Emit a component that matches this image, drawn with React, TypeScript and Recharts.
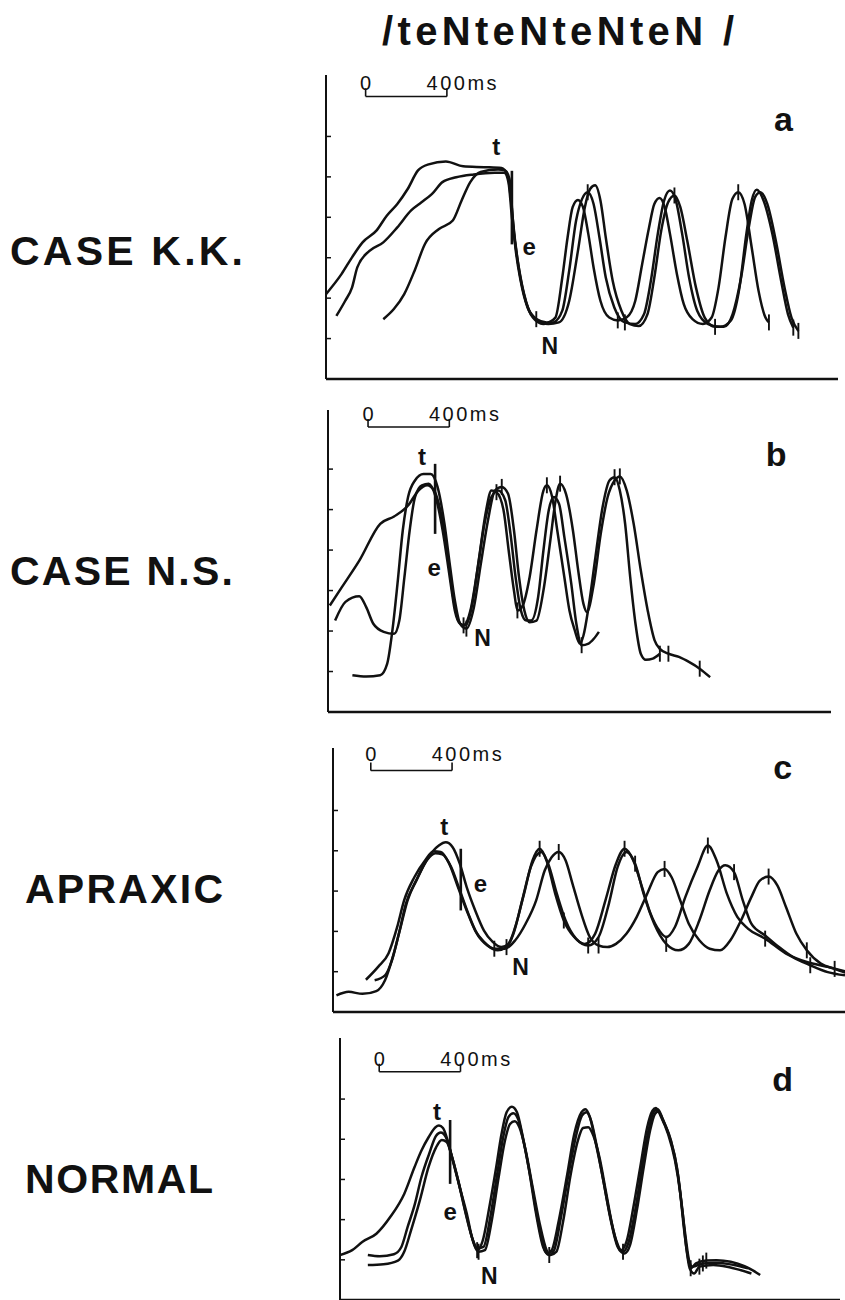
import React from 'react'
import { LineChart, Line, XAxis, YAxis, ReferenceLine, ReferenceDot } from 'recharts'

// each point: [time in ms, amplitude in tick units, 1 = segment mark]
type Pt = [number, number, number?]

// a — CASE K.K.
const KK_1: Pt[] = [
  [-195, 2.1], [-118, 2.6], [-67, 3.01], [-15, 3.38], [53, 3.67], [104, 4.04], [156, 4.33], [207, 4.7],
  [258, 5.16], [310, 5.31], [395, 5.38], [480, 5.26], [583, 5.24], [669, 5.22], [699, 5.03], [716, 4.41],
  [737, 3.26], [763, 2.43], [797, 1.77], [840, 1.48], [891, 1.4], [934, 1.52], [968, 2.51], [994, 3.5],
  [1019, 4.25], [1045, 4.43], [1070, 4.25], [1096, 3.59], [1122, 2.76], [1156, 1.93], [1199, 1.52],
  [1241, 1.45, 1], [1284, 1.52], [1327, 1.93], [1361, 2.84], [1395, 3.75], [1421, 4.33], [1447, 4.48],
  [1472, 4.25], [1498, 3.59], [1532, 2.6], [1566, 1.85], [1609, 1.48], [1660, 1.36], [1703, 1.52],
  [1737, 2.26], [1771, 3.5], [1805, 4.45], [1834, 4.62, 1], [1865, 4.33], [1900, 3.26], [1934, 2.18],
  [1968, 1.52], [1985, 1.4, 1],
]
const KK_2: Pt[] = [
  [-144, 1.56], [-101, 1.93], [-67, 2.26], [-41, 2.76], [19, 3.17], [87, 3.38], [156, 3.75], [224, 4.17],
  [275, 4.37], [327, 4.58], [378, 4.87], [446, 4.99], [532, 5.06], [634, 5.1], [682, 5.1], [703, 4.87],
  [720, 4.0], [746, 3.01], [780, 2.1], [823, 1.52], [874, 1.36], [925, 1.4], [968, 1.69], [1002, 2.68],
  [1036, 3.92], [1065, 4.45], [1093, 4.62, 1], [1122, 4.33], [1151, 3.5], [1182, 2.51], [1224, 1.77],
  [1276, 1.4, 1], [1327, 1.36], [1370, 1.6], [1404, 2.43], [1438, 3.59], [1469, 4.41], [1498, 4.66],
  [1527, 4.41], [1558, 3.59], [1592, 2.51], [1632, 1.69], [1686, 1.36], [1746, 1.29], [1797, 1.44],
  [1840, 2.26], [1874, 3.59], [1900, 4.41], [1925, 4.68], [1959, 4.41], [2002, 3.59], [2045, 2.43],
  [2079, 1.6], [2105, 1.27, 1],
]
const KK_3: Pt[] = [
  [87, 1.48], [139, 1.73], [190, 2.1], [241, 2.68], [292, 3.34], [361, 3.71], [429, 3.92], [472, 4.41],
  [515, 4.87], [566, 5.12], [652, 5.18], [686, 5.16], [708, 4.95], [725, 3.92], [751, 2.84], [788, 1.93],
  [840, 1.48, 1], [899, 1.36], [951, 1.4], [1002, 1.93], [1045, 3.17], [1079, 4.25], [1105, 4.7],
  [1130, 4.79], [1156, 4.41], [1182, 3.5], [1216, 2.43], [1259, 1.69], [1301, 1.36], [1344, 1.31],
  [1387, 1.6], [1421, 2.51], [1455, 3.67], [1489, 4.37], [1520, 4.54, 1], [1549, 4.25], [1583, 3.42],
  [1626, 2.26], [1669, 1.52], [1720, 1.29, 1], [1763, 1.29], [1806, 1.6], [1848, 2.51], [1886, 3.75],
  [1917, 4.5], [1943, 4.62], [1977, 4.33], [2019, 3.42], [2062, 2.26], [2096, 1.52], [2130, 1.19, 1],
]

// b — CASE N.S.
const NS_1: Pt[] = [
  [-188, 2.63], [-128, 3.09], [-43, 3.74], [60, 4.65], [128, 4.83], [197, 5.1], [248, 5.47], [291, 5.6],
  [325, 5.47], [359, 4.9], [393, 3.83], [419, 2.84], [444, 2.26], [470, 2.14, 1], [504, 2.51], [538, 3.5],
  [573, 4.65], [607, 5.31], [641, 5.47], [675, 5.23], [701, 4.4], [726, 3.33], [752, 2.51], [778, 2.26],
  [803, 2.26], [837, 2.84], [863, 3.99], [889, 4.98], [914, 5.31], [940, 5.14], [966, 4.32], [1000, 3.17],
  [1025, 2.18], [1051, 1.65, 1], [1085, 1.69], [1111, 1.81], [1136, 1.98],
]
const NS_2: Pt[] = [
  [-162, 2.26], [-111, 2.72], [-43, 2.86], [-9, 2.59], [26, 2.18], [77, 1.98], [128, 1.93], [154, 2.26],
  [179, 3.33], [205, 4.49], [231, 5.31], [265, 5.6], [299, 5.64], [333, 5.31], [367, 4.49], [402, 3.33],
  [427, 2.51], [453, 2.18], [479, 2.14], [513, 2.67], [547, 3.83], [581, 4.98], [607, 5.47],
  [632, 5.43, 1], [667, 4.98], [692, 3.99], [718, 3.0], [735, 2.51, 1], [761, 2.63], [795, 3.33],
  [829, 4.49], [863, 5.47], [880, 5.6, 1], [906, 5.31], [931, 4.49], [966, 3.33], [991, 2.51], [1017, 2.02],
  [1042, 1.69], [1060, 1.89], [1085, 2.59], [1119, 3.83], [1154, 5.06], [1188, 5.72], [1213, 5.8, 1],
  [1239, 5.47], [1265, 4.65], [1290, 3.33], [1316, 2.18], [1342, 1.44], [1367, 1.29], [1401, 1.32],
  [1436, 1.44, 1],
]
const NS_3: Pt[] = [
  [-77, 0.91], [-9, 0.88], [60, 0.91], [94, 1.19], [120, 2.02], [145, 3.17], [171, 4.49], [197, 5.31],
  [231, 5.72], [273, 5.88], [308, 5.88], [342, 5.56], [376, 4.65], [402, 3.66], [427, 2.76], [453, 2.18],
  [484, 2.06, 1], [521, 2.59], [555, 3.66], [590, 4.73], [624, 5.47], [658, 5.56, 1], [689, 5.39],
  [718, 4.49], [743, 3.33], [769, 2.51], [795, 2.22], [829, 2.26], [863, 3.0], [897, 4.24], [923, 5.23],
  [945, 5.64, 1], [974, 5.39], [1008, 4.49], [1034, 3.5], [1060, 2.67], [1077, 2.47], [1111, 3.17],
  [1145, 4.4], [1179, 5.31], [1213, 5.72], [1239, 5.82, 1], [1273, 5.47], [1307, 4.65], [1342, 3.5],
  [1376, 2.51], [1410, 1.77], [1436, 1.56], [1478, 1.44, 1], [1530, 1.36], [1581, 1.23], [1632, 1.07, 1],
  [1683, 0.86],
]

// c — APRAXIC
const AP_1: Pt[] = [
  [-169, 0.41], [-109, 0.5], [-41, 0.45], [27, 0.52], [70, 0.79], [113, 1.45], [147, 2.11], [181, 2.77],
  [232, 3.35], [284, 3.84], [335, 4.13], [369, 4.21], [403, 4.09], [438, 3.68], [472, 3.1], [514, 2.52],
  [557, 2.02], [600, 1.74], [643, 1.61], [677, 1.69], [711, 2.11], [754, 2.93], [796, 3.76], [831, 4.05, 1],
  [865, 3.76], [908, 2.93], [950, 2.27, 1], [1001, 1.86], [1053, 1.69], [1104, 1.94], [1155, 2.77],
  [1207, 3.68], [1249, 4.05, 1], [1292, 3.76], [1335, 3.1], [1377, 2.44], [1420, 2.02], [1454, 1.86],
  [1497, 2.11], [1548, 2.85], [1608, 3.6], [1659, 4.13, 1], [1702, 3.76], [1753, 2.93], [1804, 2.36],
  [1856, 2.07], [1941, 1.82, 1], [2044, 1.45], [2146, 1.24], [2249, 1.12], [2352, 0.99],
]
const AP_2: Pt[] = [
  [-24, 0.8], [36, 1.12], [87, 1.45], [130, 2.11], [164, 2.77], [215, 3.35], [267, 3.76], [309, 3.99],
  [344, 3.97], [386, 3.68], [429, 3.1], [472, 2.52], [514, 2.02], [557, 1.74], [608, 1.57, 1], [660, 1.57],
  [711, 1.78], [762, 2.19], [814, 2.77], [856, 3.51], [890, 3.84], [925, 3.97, 1], [959, 3.76], [993, 3.18],
  [1036, 2.44], [1078, 1.86], [1121, 1.65, 1], [1164, 1.61], [1207, 1.69], [1258, 1.94], [1309, 2.36],
  [1360, 2.93], [1412, 3.47], [1446, 3.55, 1], [1480, 3.35], [1523, 2.77], [1565, 2.19], [1617, 1.78],
  [1668, 1.57], [1719, 1.53], [1770, 1.78], [1822, 2.27], [1873, 2.85], [1915, 3.26], [1958, 3.36, 1],
  [2001, 3.14], [2044, 2.6], [2095, 1.94], [2146, 1.53, 1], [2215, 1.2], [2283, 1.07, 1], [2352, 0.95],
]
const AP_3: Pt[] = [
  [19, 0.79], [70, 0.91], [104, 1.28], [138, 1.94], [173, 2.69], [224, 3.26], [275, 3.76], [318, 3.94],
  [352, 3.91], [395, 3.6], [438, 3.02], [480, 2.44], [523, 1.94], [574, 1.65], [625, 1.53], [668, 1.61, 1],
  [702, 1.94], [745, 2.77], [788, 3.6], [839, 3.97], [873, 3.68], [916, 2.93], [959, 2.27], [1010, 1.82],
  [1070, 1.65, 1], [1121, 1.86], [1172, 2.69], [1215, 3.6], [1258, 3.97], [1301, 3.68, 1], [1343, 2.93],
  [1395, 2.19], [1454, 1.69, 1], [1514, 1.53], [1565, 1.69], [1617, 2.27], [1668, 3.02], [1711, 3.51],
  [1745, 3.64], [1788, 3.47, 1], [1831, 2.77], [1873, 2.19], [1941, 1.9], [2009, 1.61], [2078, 1.36],
  [2163, 1.16, 1], [2249, 0.99], [2334, 0.91],
]

// d — NORMAL
const NO_1: Pt[] = [
  [-193, 1.12], [-133, 1.24], [-82, 1.45], [-14, 1.65], [55, 2.07], [123, 2.64], [174, 3.31], [208, 3.72],
  [243, 4.05], [277, 4.3], [294, 4.34], [314, 4.28], [337, 3.97], [362, 3.47], [396, 2.81], [431, 2.15],
  [460, 1.49], [482, 1.24, 1], [508, 1.45], [542, 2.31], [576, 3.31], [602, 4.13], [627, 4.67], [653, 4.81],
  [678, 4.67], [704, 4.13], [738, 3.22], [772, 2.15], [807, 1.32], [827, 1.16], [849, 1.24], [884, 1.98],
  [926, 3.14], [960, 4.13], [995, 4.67], [1015, 4.75], [1037, 4.55], [1063, 3.97], [1097, 3.14],
  [1131, 2.23], [1166, 1.49], [1191, 1.24], [1217, 1.45], [1251, 2.31], [1285, 3.31], [1319, 4.3],
  [1345, 4.71], [1362, 4.78], [1388, 4.55], [1422, 4.13], [1456, 3.47], [1482, 2.64], [1499, 1.82],
  [1516, 1.16], [1533, 0.79, 1], [1559, 0.91], [1610, 0.98, 1], [1661, 0.99], [1730, 0.95], [1798, 0.84],
  [1841, 0.73], [1875, 0.62],
]
const NO_2: Pt[] = [
  [-56, 1.12], [3, 1.09], [72, 1.14], [109, 1.32], [140, 1.82], [174, 2.36], [208, 3.06], [246, 3.64],
  [280, 4.09], [303, 4.17], [328, 4.05], [354, 3.64], [388, 2.98], [422, 2.23], [456, 1.57], [482, 1.28],
  [513, 1.32], [547, 2.07], [581, 3.14], [610, 4.05], [636, 4.55], [660, 4.65], [684, 4.5], [713, 3.88],
  [747, 2.98], [781, 1.98], [815, 1.24], [837, 1.12, 1], [861, 1.24], [895, 2.07], [935, 3.22], [969, 4.09],
  [998, 4.59], [1020, 4.67], [1043, 4.46], [1072, 3.8], [1106, 2.89], [1140, 1.98], [1174, 1.32],
  [1200, 1.2, 1], [1225, 1.4], [1260, 2.23], [1294, 3.31], [1325, 4.21], [1350, 4.67], [1371, 4.75],
  [1396, 4.5], [1430, 4.05], [1465, 3.31], [1490, 2.31], [1508, 1.57], [1525, 0.99], [1542, 0.83],
  [1593, 0.91, 1], [1661, 0.93], [1747, 0.87], [1815, 0.79],
]
const NO_3: Pt[] = [
  [-56, 0.87], [21, 0.89], [92, 0.98], [123, 1.2], [157, 1.74], [200, 2.48], [243, 3.31], [280, 3.8],
  [308, 3.98], [332, 3.93], [359, 3.55], [393, 2.89], [427, 2.15], [461, 1.49], [489, 1.2, 1], [520, 1.24],
  [554, 1.98], [588, 3.06], [619, 3.97], [644, 4.38], [667, 4.45], [690, 4.3], [721, 3.72], [755, 2.81],
  [790, 1.9], [824, 1.24], [844, 1.12], [872, 1.2], [906, 1.98], [943, 3.14], [978, 3.97], [1003, 4.28],
  [1029, 4.3], [1054, 4.09], [1084, 3.55], [1118, 2.64], [1152, 1.74], [1183, 1.24], [1208, 1.16],
  [1234, 1.36], [1268, 2.23], [1302, 3.31], [1333, 4.21], [1357, 4.63], [1374, 4.69], [1401, 4.42],
  [1436, 3.97], [1470, 3.14], [1494, 2.15], [1511, 1.32], [1528, 0.79], [1550, 0.66], [1576, 0.83, 1],
  [1644, 0.87], [1712, 0.83], [1781, 0.74], [1832, 0.66],
]

const TITLE = '/teNteNteNteN /'
const CASES = ['CASE K.K.', 'CASE N.S.', 'APRAXIC', 'NORMAL']
const LETTERS = ['a', 'b', 'c', 'd']

const FONT = '"Liberation Sans", Arial, Helvetica, sans-serif'
const INK = '#111'

interface PanelDef {
  left: number
  top: number
  width: number
  height: number
  xDomain: [number, number]
  yMax: number
  yTicks: number[]
  traces: Pt[][]
  release: [number, number, number] // x, y from, y to
  bar: number
  barLabel: number
  t: [number, number]
  e: [number, number]
  n: [number, number]
  letterAt: [number, number]
  label: { x: number; y: number; w: number }
}

const PANELS: PanelDef[] = [
  {
    left: 326, top: 75, width: 512, height: 304, xDomain: [-195, 2325], yMax: 7.52, yTicks: [1, 2, 3, 4, 5, 6],
    traces: [KK_1, KK_2, KK_3], release: [720, 5.15, 3.33], bar: 6.99, barLabel: 7.32,
    t: [643, 5.74], e: [805, 3.27], n: [907, 0.82], letterAt: [2056, 6.43],
    label: { x: 10, y: 265, w: 233 },
  },
  {
    left: 328, top: 410, width: 503, height: 302, xDomain: [-197, 2278], yMax: 7.46, yTicks: [1, 2, 3, 4, 5, 6],
    traces: [NS_1, NS_2, NS_3], release: [330, 6.13, 4.4], bar: 7.04, barLabel: 7.35,
    t: [265, 6.3], e: [325, 3.58], n: [564, 1.84], letterAt: [2008, 6.38],
    label: { x: 10, y: 585, w: 223 },
  },
  {
    left: 333, top: 748, width: 512, height: 264, xDomain: [-186, 2334], yMax: 6.55, yTicks: [1, 2, 3, 4, 5],
    traces: [AP_1, AP_2, AP_3], release: [443, 4.05, 2.52], bar: 5.99, barLabel: 6.39,
    t: [361, 4.6], e: [540, 3.18], n: [737, 1.12], letterAt: [2027, 6.07],
    label: { x: 25, y: 903, w: 198 },
  },
  {
    left: 340, top: 1038, width: 500, height: 262, xDomain: [-193, 2268], yMax: 6.52, yTicks: [1, 2, 3, 4, 5],
    traces: [NO_1, NO_2, NO_3], release: [349, 4.48, 2.89], bar: 5.68, barLabel: 5.99,
    t: [285, 4.69], e: [349, 2.21], n: [542, 0.6], letterAt: [1986, 5.5],
    label: { x: 25, y: 1193, w: 188 },
  },
]

const PAD = 4
const PAD_TOP = 24

function rows(pts: Pt[]) {
  return pts.map(([x, y, m]) => ({ x, y, m: m ? 1 : 0 }))
}

function renderMark(props: any) {
  const { cx, cy, payload, index } = props
  if (!payload || !payload.m || cx == null || cy == null) return <g key={`d${index}`} />
  return <line key={`m${index}`} x1={cx} x2={cx} y1={cy - 8} y2={cy + 8} stroke={INK} strokeWidth={1.9} />
}

const textShape =
  (value: string, size: number, weight: number | string = 'bold', anchor: 'start' | 'middle' = 'middle', len?: number) =>
  (p: any) =>
    (
      <text
        x={p.cx}
        y={p.cy}
        fontFamily={FONT}
        fontSize={size}
        fontWeight={weight}
        textAnchor={anchor}
        dominantBaseline="central"
        fill={INK}
        textLength={len}
        lengthAdjust={len ? 'spacing' : undefined}
      >
        {value}
      </text>
    )

function Panel({ def, letter }: { def: PanelDef; letter: string }) {
  const [rx, ry1, ry2] = def.release
  const tickUp = 0.2
  return (
    <div style={{ position: 'absolute', left: def.left - PAD, top: def.top - PAD_TOP }}>
      <LineChart
        width={def.width + PAD * 2}
        height={def.height + PAD + PAD_TOP}
        margin={{ top: PAD_TOP, right: PAD, bottom: PAD, left: PAD }}
      >
        <XAxis type="number" dataKey="x" domain={def.xDomain} allowDataOverflow hide />
        <YAxis
          type="number"
          domain={[0, def.yMax]}
          ticks={def.yTicks}
          interval={0}
          allowDataOverflow
          mirror
          tickSize={5}
          tickFormatter={() => ''}
          axisLine={{ stroke: INK, strokeWidth: 2 }}
          tickLine={{ stroke: INK, strokeWidth: 1.5 }}
        />
        {/* baseline */}
        <ReferenceLine y={0} stroke={INK} strokeWidth={2.5} />

        {/* scale bar */}
        <ReferenceLine segment={[{ x: 0, y: def.bar }, { x: 400, y: def.bar }]} stroke={INK} strokeWidth={1.6} />
        <ReferenceLine segment={[{ x: 0, y: def.bar }, { x: 0, y: def.bar + tickUp }]} stroke={INK} strokeWidth={1.6} />
        <ReferenceLine segment={[{ x: 400, y: def.bar }, { x: 400, y: def.bar + tickUp }]} stroke={INK} strokeWidth={1.6} />
        <ReferenceDot x={0} y={def.barLabel} r={0} shape={textShape('0', 20, 'normal')} />
        <ReferenceDot x={300} y={def.barLabel} r={0} shape={textShape('400ms', 20, 'normal', 'start', 70)} />

        {/* release stroke of t */}
        <ReferenceLine segment={[{ x: rx, y: ry1 }, { x: rx, y: ry2 }]} stroke={INK} strokeWidth={2.6} />

        {def.traces.map((tr, i) => (
          <Line
            key={i}
            data={rows(tr)}
            dataKey="y"
            type="monotone"
            stroke={INK}
            strokeWidth={2.5}
            dot={renderMark}
            activeDot={false}
            isAnimationActive={false}
          />
        ))}

        <ReferenceDot x={def.t[0]} y={def.t[1]} r={0} shape={textShape('t', 24)} />
        <ReferenceDot x={def.e[0]} y={def.e[1]} r={0} shape={textShape('e', 24)} />
        <ReferenceDot x={def.n[0]} y={def.n[1]} r={0} shape={textShape('N', 23)} />
        <ReferenceDot x={def.letterAt[0]} y={def.letterAt[1]} r={0} shape={textShape(letter, 34)} />
      </LineChart>
    </div>
  )
}

export default function App() {
  return (
    <div
      style={{
        position: 'absolute',
        left: 0,
        top: 0,
        width: 845,
        height: 1300,
        overflow: 'hidden',
        background: '#fff',
      }}
    >
      <svg width={845} height={1300} style={{ position: 'absolute', left: 0, top: 0 }}>
        <text x={382} y={45} fontFamily={FONT} fontSize={40} fontWeight="bold" fill={INK} textLength={352} lengthAdjust="spacing">
          {TITLE}
        </text>
        {PANELS.map((p, i) => (
          <text
            key={i}
            x={p.label.x}
            y={p.label.y}
            fontFamily={FONT}
            fontSize={41}
            fontWeight="bold"
            fill={INK}
            textLength={p.label.w}
            lengthAdjust="spacing"
          >
            {CASES[i]}
          </text>
        ))}
      </svg>
      {PANELS.map((p, i) => (
        <Panel key={i} def={p} letter={LETTERS[i]} />
      ))}
    </div>
  )
}
